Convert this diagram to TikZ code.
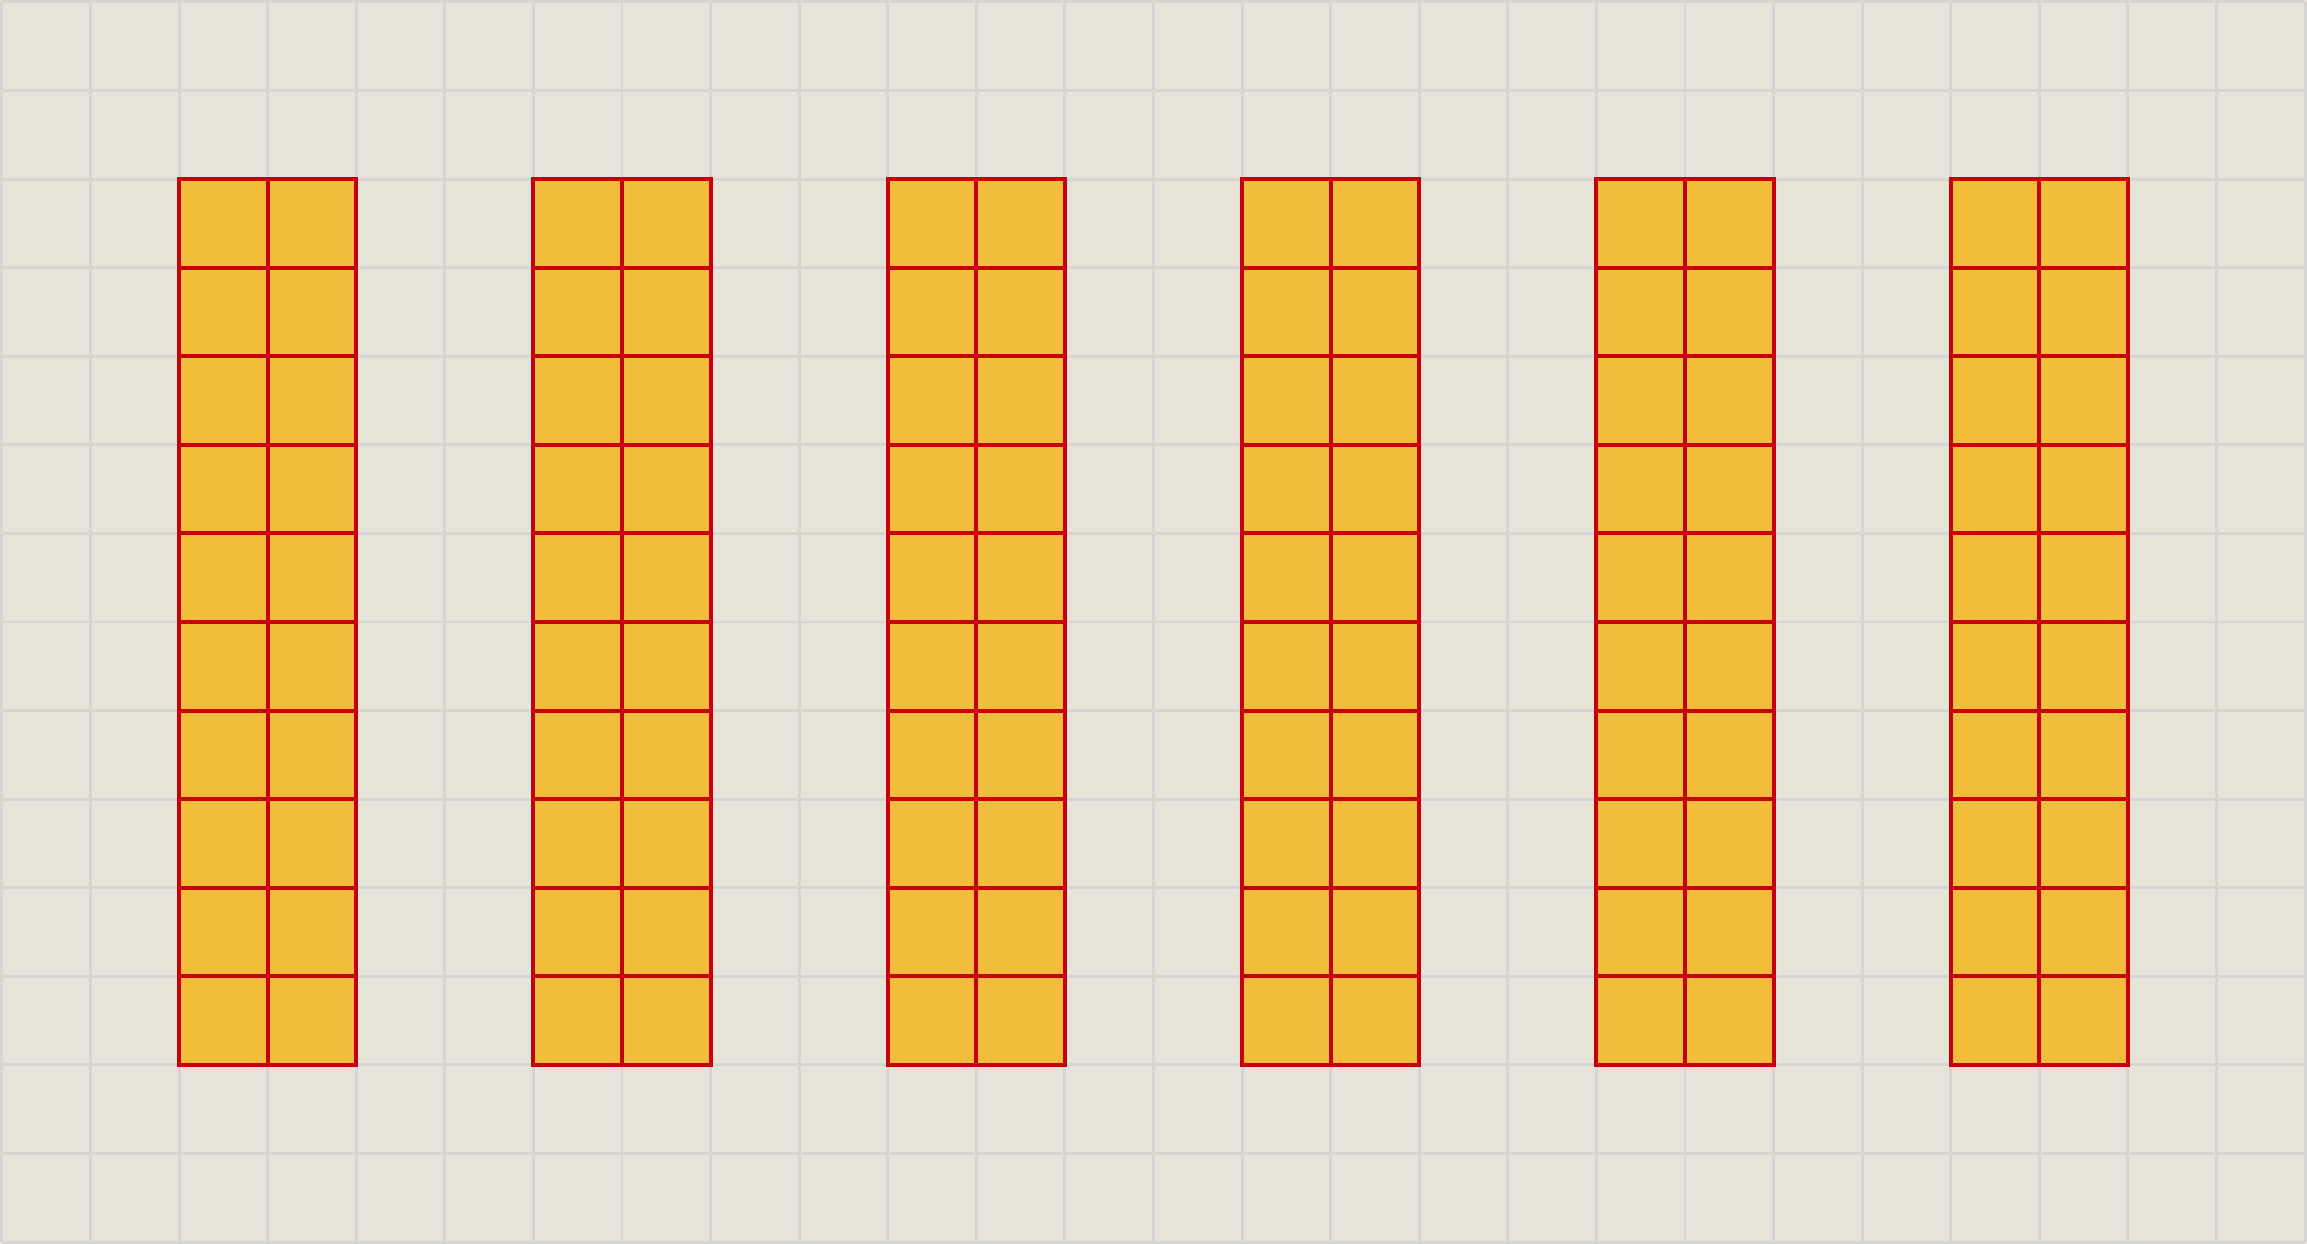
\documentclass[tikz,border=0pt]{standalone}
\definecolor{bgc}{HTML}{E6E4D9}
\definecolor{gridc}{HTML}{D6D5D3}
\definecolor{fillc}{HTML}{F2BD3A}
\definecolor{edgec}{HTML}{C8000A}
\tikzset{
  bggrid/.style={draw=gridc, line width=0.95pt},
  cellbox/.style={fill=fillc, draw=edgec, line width=1.3pt}
}
\begin{document}
\begin{tikzpicture}
\useasboundingbox (-0.0217,-0.0217) rectangle (26.0217,14.0217);
\fill[bgc] (-0.0217,-0.0217) rectangle (26.0217,14.0217);
\draw[bggrid] (0,0) grid (26,14);
\foreach \c in {0,...,5}{
  \pgfmathtruncatemacro{\x}{2+4*\c}
  \draw[cellbox] (\x,2) rectangle ++(2,10);
  \draw[cellbox] (\x,2) grid ++(2,10);
}
\end{tikzpicture}
\end{document}
